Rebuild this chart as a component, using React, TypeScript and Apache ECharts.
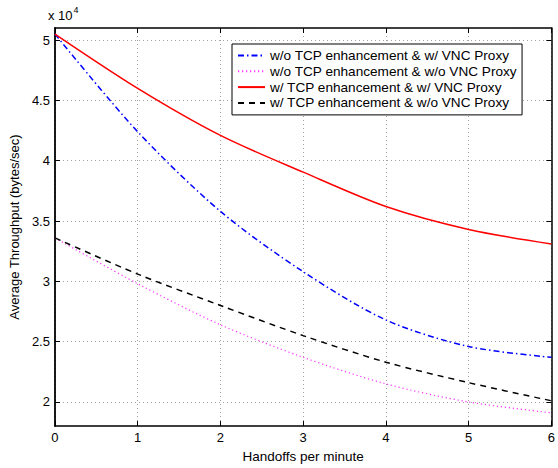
import React, { useEffect, useRef } from "react";
import * as echarts from "echarts";

const xValues = [0, 1, 2, 3, 4, 5, 6];
const seriesNames = [
  "w/o TCP enhancement & w/ VNC Proxy",
  "w/o TCP enhancement & w/o VNC Proxy",
  "w/ TCP enhancement & w/ VNC Proxy",
  "w/ TCP enhancement & w/o VNC Proxy",
];
const noTcpVnc = [50500, 42400, 35800, 30800, 26800, 24600, 23700];
const noTcpNoVnc = [33600, 29800, 26400, 23700, 21500, 20000, 19100];
const tcpVnc = [50500, 46000, 42100, 39050, 36200, 34300, 33100];
const tcpNoVnc = [33600, 30600, 28000, 25500, 23300, 21600, 20100];
const yTicks = [20000, 25000, 30000, 35000, 40000, 45000, 50000];

const FONT = "Liberation Sans, Arial, Helvetica, sans-serif";

export default function App() {
  const ref = useRef<HTMLDivElement>(null);
  useEffect(() => {
    if (!ref.current) return;
    const chart = echarts.init(ref.current, undefined, { renderer: "svg" });
    const pts = (arr: number[]) => xValues.map((x, i) => [x, arr[i]]);
    const gridLine = { show: true, lineStyle: { color: "#a0a0a0", width: 1, type: [1, 3] as any } };
    const mk = (name: string, data: number[], color: string, width: number, type: any) => ({
      name,
      type: "line",
      data: pts(data),
      smooth: 0.3,
      symbol: "none",
      lineStyle: { color, width, type },
      itemStyle: { color },
    });
    chart.setOption({
      animation: false,
      textStyle: { fontFamily: FONT },
      grid: { left: 48, top: 28, right: 1, bottom: 38, containLabel: false },
      legend: {
        orient: "vertical",
        left: 232,
        top: 44,
        padding: [4.5, 5, 5, 5],
        itemGap: 1.8,
        itemWidth: 27,
        itemHeight: 12,
        borderColor: "#000",
        borderWidth: 1,
        backgroundColor: "#fff",
        itemStyle: { opacity: 0 },
        textStyle: { fontFamily: FONT, fontSize: 13.6, color: "#000" },
        data: seriesNames,
      },
      graphic: [
        {
          type: "text",
          left: 48,
          top: 5,
          style: {
            text: "{a|x 10}{b|4}",
            rich: {
              a: { fontFamily: FONT, fontSize: 13, fill: "#000", verticalAlign: "bottom", lineHeight: 17 },
              b: { fontFamily: FONT, fontSize: 9, fill: "#000", verticalAlign: "top", padding: [0, 0, 8, 1], lineHeight: 17 },
            },
          },
        },
      ],
      xAxis: [
        {
          type: "value",
          min: 0,
          max: 6,
          interval: 1,
          name: "Handoffs per minute",
          nameLocation: "middle",
          nameGap: 22,
          nameTextStyle: { fontFamily: FONT, fontSize: 13.5, color: "#000" },
          axisLine: { show: true, onZero: false, lineStyle: { color: "#000", width: 1.5 } },
          axisTick: { show: true, inside: true, length: 5, lineStyle: { color: "#000" } },
          axisLabel: { fontFamily: FONT, fontSize: 13, color: "#000", margin: 5 },
          splitLine: gridLine,
        },
        {
          type: "value",
          position: "top",
          min: 0,
          max: 6,
          interval: 1,
          axisLine: { show: true, onZero: false, lineStyle: { color: "#000", width: 1.5 } },
          axisTick: { show: true, inside: true, length: 5, lineStyle: { color: "#000" } },
          axisLabel: { show: false },
          splitLine: { show: false },
        },
      ],
      yAxis: [
        {
          type: "value",
          min: 18000,
          max: 51000,
          name: "Average Throughput (bytes/sec)",
          nameLocation: "middle",
          nameGap: 30,
          nameTextStyle: { fontFamily: FONT, fontSize: 13, color: "#000" },
          axisLine: { show: true, onZero: false, lineStyle: { color: "#000", width: 1.8 } },
          axisTick: { show: true, inside: true, length: 5, customValues: yTicks, lineStyle: { color: "#000" } },
          axisLabel: {
            fontFamily: FONT,
            fontSize: 13,
            color: "#000",
            margin: 5,
            customValues: yTicks,
            formatter: (v: number) => String(v / 10000),
          },
          splitLine: gridLine,
        },
        {
          type: "value",
          position: "right",
          min: 18000,
          max: 51000,
          axisLine: { show: true, onZero: false, lineStyle: { color: "#000", width: 1.5 } },
          axisTick: { show: true, inside: true, length: 5, customValues: yTicks, lineStyle: { color: "#000" } },
          axisLabel: { show: false, customValues: yTicks },
          splitLine: { show: false },
        },
      ],
      series: [
        mk(seriesNames[0], noTcpVnc, "#0000ff", 1.5, [6, 3, 1.5, 3]),
        mk(seriesNames[1], noTcpNoVnc, "#ff33ff", 1.2, [1.2, 2.8]),
        mk(seriesNames[2], tcpVnc, "#ff0000", 1.5, "solid"),
        mk(seriesNames[3], tcpNoVnc, "#000000", 1.5, [6, 5]),
      ],
    });
    return () => chart.dispose();
  }, []);
  return (
    <div
      ref={ref}
      style={{ position: "fixed", left: 0, top: 0, width: 558, height: 468, background: "#fff" }}
    />
  );
}
